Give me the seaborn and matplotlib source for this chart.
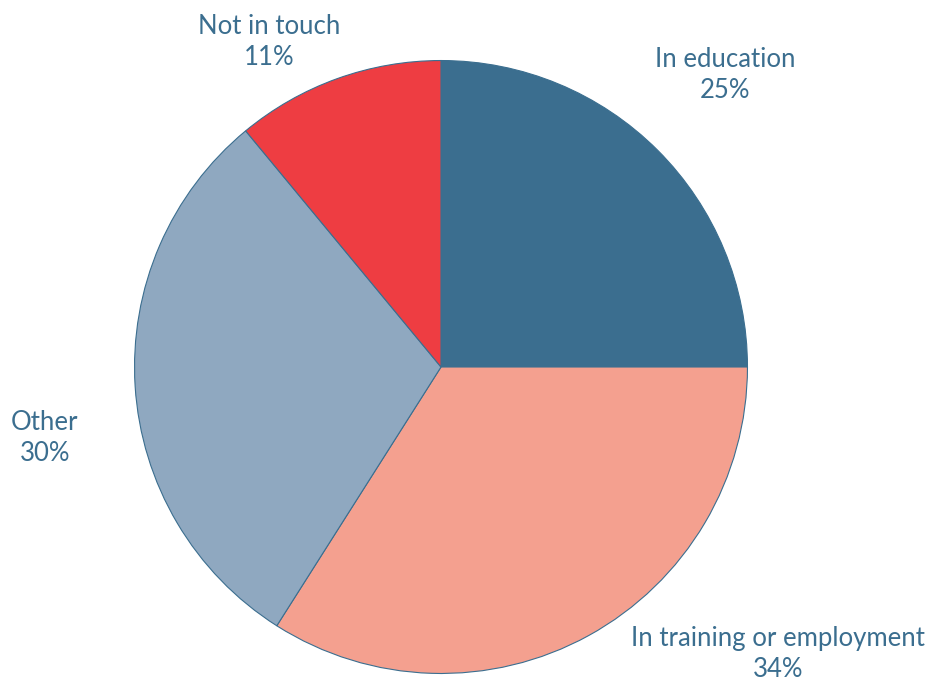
import matplotlib
matplotlib.use("Agg")
import matplotlib.pyplot as plt
import seaborn as sns

labels = ["In education", "In training or employment", "Other", "Not in touch"]
shares = [25, 34, 30, 11]
colors = ["#3b6e8f", "#f4a08f", "#8fa8c0", "#ee3d42"]
text_color = "#3b6e8f"

# label anchor positions in figure pixels (from top-left)
label_pos = [(725, 75), (778, 654), (45, 438), (269, 42)]

sns.set_theme(style="white")
plt.rcParams["font.family"] = ["Lato", "DejaVu Sans"]

fig = plt.figure(figsize=(9.28, 6.83), dpi=100)
ax = fig.add_axes([133 / 928, 8 / 683, 616 / 928, 616 / 683])

ax.pie(
    shares,
    colors=colors,
    startangle=90,
    counterclock=False,
    radius=1,
    wedgeprops=dict(edgecolor="#3b6e8f", linewidth=0.8),
)
ax.set_xlim(-1.005, 1.005)
ax.set_ylim(-1.005, 1.005)
ax.set_aspect("equal")
ax.axis("off")

for name, val, (px, py) in zip(labels, shares, label_pos):
    fig.text(px / 928, 1 - py / 683, f"{name}\n{val}%", ha="center", va="center",
             color=text_color, fontsize=18.5, linespacing=1.28)

fig.savefig("out.png", dpi=100)
